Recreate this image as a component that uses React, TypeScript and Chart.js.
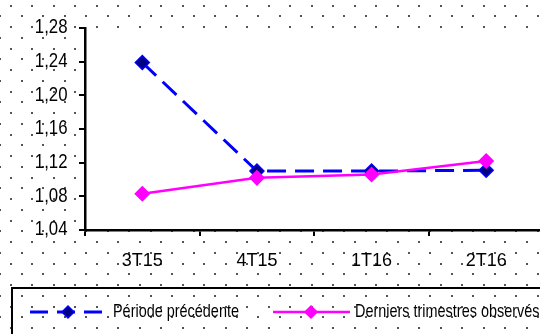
import React, { useEffect, useRef } from "react";
import { Chart, registerables } from "chart.js";

Chart.register(...registerables);

const categories = ["3T15", "4T15", "1T16", "2T16"];
const previousPeriod = [1.239, 1.11, 1.11, 1.111];
const latestQuarters = [1.083, 1.102, 1.106, 1.122];
const seriesLabels = ["Période précédente", "Derniers trimestres observés"];
const yMin = 1.04;
const yMax = 1.28;
const yStep = 0.04;

const FONT = "'Liberation Sans', Arial, sans-serif";
const BLUE = "#0000FF";
const NAVY = "#000080";
const MAGENTA = "#FF00FF";

const fmt = (v: number) => v.toFixed(2).replace(".", ",");

function scaledText(ctx: any, text: string, x: number, y: number, size: number, sx: number, align: string) {
  ctx.save();
  ctx.font = `${size}px ${FONT}`;
  ctx.textBaseline = "middle";
  ctx.textAlign = align;
  ctx.fillStyle = "#000000";
  ctx.translate(x, y);
  ctx.scale(sx, 1);
  ctx.fillText(text, 0, 0);
  ctx.restore();
}

const backgroundPlugin = {
  id: "dottedBackground",
  beforeDraw(chart: any) {
    const { ctx, width, height, chartArea } = chart;
    ctx.save();
    ctx.fillStyle = "#ffffff";
    ctx.fillRect(0, 0, width, height);
    ctx.fillStyle = "#555555";
    const pitchY = 10.75;
    const pitchX = 21.5;
    for (let r = 0; r * pitchY < height + pitchY; r++) {
      const y = 5.7 + r * pitchY;
      const x0 = r % 2 === 0 ? 10.7 : 0.2;
      for (let x = x0; x < width + pitchX; x += pitchX) {
        ctx.fillRect(Math.round(x - 1), Math.round(y - 1), 2, 2);
      }
    }
    ctx.fillStyle = "#ffffff";
    ctx.fillRect(chartArea.left, chartArea.top, chartArea.right - chartArea.left, chartArea.bottom - chartArea.top);
    ctx.restore();
  },
  afterDraw(chart: any) {
    const { ctx } = chart;
    const xs = chart.scales.x;
    const ys = chart.scales.y;

    ys.ticks.forEach((t: any) => {
      scaledText(ctx, fmt(t.value), 67.5, ys.getPixelForValue(t.value) - 0.5, 21, 0.8, "right");
    });
    categories.forEach((c, i) => {
      scaledText(ctx, c, xs.getPixelForValue(i), 261.5, 18, 1, "center");
    });

    ctx.save();
    ctx.strokeStyle = "#000000";
    ctx.lineWidth = 2;
    ctx.strokeRect(12, 288, 700, 100);

    const yc = 312;
    const diamond = (x: number, r: number, fill: string, stroke: string) => {
      ctx.beginPath();
      ctx.moveTo(x - r, yc);
      ctx.lineTo(x, yc - r);
      ctx.lineTo(x + r, yc);
      ctx.lineTo(x, yc + r);
      ctx.closePath();
      ctx.fillStyle = fill;
      ctx.fill();
      ctx.lineWidth = 1.5;
      ctx.strokeStyle = stroke;
      ctx.stroke();
    };

    ctx.setLineDash([18, 9]);
    ctx.strokeStyle = BLUE;
    ctx.lineWidth = 3;
    ctx.beginPath();
    ctx.moveTo(30, yc);
    ctx.lineTo(105, yc);
    ctx.stroke();
    ctx.setLineDash([]);
    diamond(68, 6, NAVY, BLUE);

    ctx.strokeStyle = MAGENTA;
    ctx.lineWidth = 2.5;
    ctx.beginPath();
    ctx.moveTo(273, yc);
    ctx.lineTo(350, yc);
    ctx.stroke();
    diamond(311, 6, MAGENTA, MAGENTA);
    ctx.restore();

    scaledText(ctx, seriesLabels[0], 113, yc - 0.5, 18.5, 0.78, "left");
    scaledText(ctx, seriesLabels[1], 355, yc - 0.5, 18.5, 0.78, "left");
  },
};

export default function App() {
  const canvasRef = useRef<HTMLCanvasElement | null>(null);

  useEffect(() => {
    if (!canvasRef.current) return;
    const chart = new Chart(canvasRef.current, {
      type: "line",
      data: {
        labels: categories,
        datasets: [
          {
            label: seriesLabels[0],
            data: previousPeriod,
            borderColor: BLUE,
            borderWidth: 3,
            borderDash: [19, 9],
            pointStyle: "rectRot",
            pointRadius: 7,
            pointBackgroundColor: NAVY,
            pointBorderColor: BLUE,
            pointBorderWidth: 1.5,
            tension: 0,
            order: 1,
          },
          {
            label: seriesLabels[1],
            data: latestQuarters,
            borderColor: MAGENTA,
            borderWidth: 2.5,
            pointStyle: "rectRot",
            pointRadius: 7,
            pointBackgroundColor: MAGENTA,
            pointBorderColor: MAGENTA,
            pointBorderWidth: 1.5,
            tension: 0,
            order: 0,
          },
        ],
      },
      options: {
        responsive: false,
        animation: false,
        layout: { padding: { top: 28, left: 0, right: 0, bottom: 0 } },
        plugins: {
          legend: { display: false },
          tooltip: { enabled: false },
        },
        scales: {
          x: {
            offset: true,
            afterFit: (scale: any) => {
              scale.height = 104;
            },
            grid: {
              offset: true,
              drawOnChartArea: false,
              drawTicks: true,
              tickLength: 6,
              color: "#000000",
              lineWidth: 2,
            },
            border: { display: true, color: "#000000", width: 2.5 },
            ticks: { display: false },
          },
          y: {
            min: yMin,
            max: yMax,
            afterFit: (scale: any) => {
              scale.width = 85;
            },
            grid: {
              drawOnChartArea: false,
              drawTicks: true,
              tickLength: 6,
              color: "#000000",
              lineWidth: 2,
            },
            border: { display: true, color: "#000000", width: 2.5 },
            ticks: {
              display: false,
              stepSize: yStep,
            },
          },
        },
      },
      plugins: [backgroundPlugin],
    });
    return () => chart.destroy();
  }, []);

  return (
    <div style={{ position: "fixed", left: 0, top: 0, width: 540, height: 334, overflow: "hidden", background: "#fff" }}>
      <canvas ref={canvasRef} width={552} height={334} style={{ display: "block", width: 552, height: 334 }} />
    </div>
  );
}
